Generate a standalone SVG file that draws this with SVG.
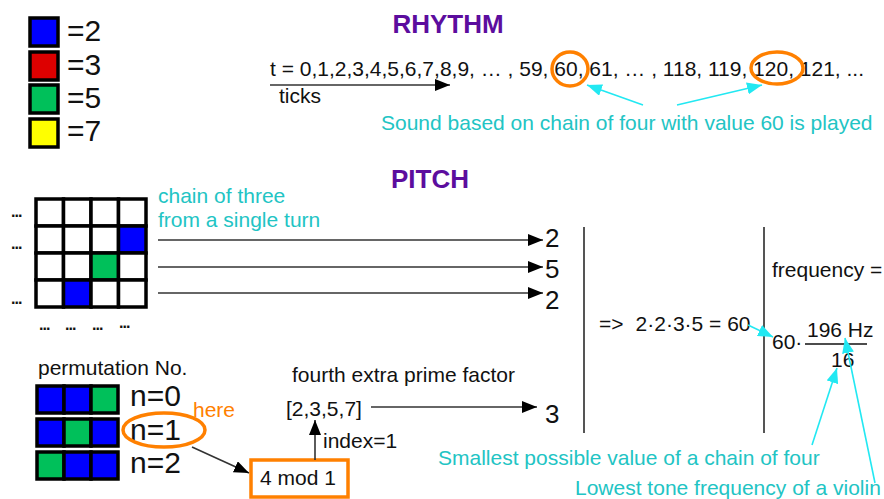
<svg xmlns="http://www.w3.org/2000/svg" width="884" height="499" viewBox="0 0 884 499">
<defs>
<marker id="ab" markerUnits="userSpaceOnUse" markerWidth="16" markerHeight="12" refX="15" refY="6" orient="auto"><path d="M0,0 L15,6 L0,12 z" fill="#000"/></marker>
<marker id="ac" markerUnits="userSpaceOnUse" markerWidth="16" markerHeight="12" refX="15" refY="6" orient="auto"><path d="M0,0 L15,6 L0,12 z" fill="#22e8f2"/></marker>
</defs>
<style>
text{font-family:"Liberation Sans",Arial,sans-serif;fill:#111}
.t{font-size:21px}
.big{font-size:30px}
.num{font-size:26px}
.title{font-size:26px;font-weight:bold;fill:#5c0d9e}
.cy{font-size:21px;fill:#22c4c4}
.or{font-size:21px;fill:#ff8000}
.dots{font-size:16px;font-weight:bold;letter-spacing:-1px}
.cell{stroke:#000;stroke-width:3.5}
.blk{stroke:#333;stroke-width:1.6;fill:none;marker-end:url(#ab)}
.cyl{stroke:#22e8f2;stroke-width:1.6;fill:none;marker-end:url(#ac)}
.orl{stroke:#ff8000;stroke-width:3.5;fill:none}
.sep{stroke:#555;stroke-width:2}
.w{fill:#fff}.b{fill:#0000ff}.r{fill:#dd0000}.g{fill:#00c05a}.y{fill:#ffff00}
</style>
<rect width="884" height="499" fill="#fff"/>

<g id="legend">
<rect class="cell b" x="30" y="18" width="28" height="28"/>
<rect class="cell r" x="30" y="52" width="28" height="28"/>
<rect class="cell g" x="30" y="85" width="28" height="28"/>
<rect class="cell y" x="30" y="119" width="28" height="28"/>
<text class="big" x="67" y="41">=2</text>
<text class="big" x="67" y="75">=3</text>
<text class="big" x="67" y="108">=5</text>
<text class="big" x="67" y="141">=7</text>
</g>

<g id="rhythm">
<text class="title" x="448" y="33" text-anchor="middle">RHYTHM</text>
<text class="t" x="270" y="76">t = 0,1,2,3,4,5,6,7,8,9, … , 59, 60, 61, … , 118, 119, 120, 121, ...</text>
<text class="t" x="279" y="103">ticks</text>
<ellipse class="orl" cx="570" cy="69" rx="18" ry="17"/>
<ellipse class="orl" cx="777" cy="68" rx="26" ry="16"/>
<text class="cy" x="381" y="130">Sound based on chain of four with value 60 is played</text>
</g>

<g id="pitch-title">
<text class="title" x="430" y="188" text-anchor="middle">PITCH</text>
</g>

<g id="grid">
<rect class="cell w" x="36" y="199" width="27.5" height="27"/>
<rect class="cell w" x="63.5" y="199" width="27.5" height="27"/>
<rect class="cell w" x="91" y="199" width="27.5" height="27"/>
<rect class="cell w" x="118.5" y="199" width="27.5" height="27"/>
<rect class="cell w" x="36" y="226" width="27.5" height="27"/>
<rect class="cell w" x="63.5" y="226" width="27.5" height="27"/>
<rect class="cell w" x="91" y="226" width="27.5" height="27"/>
<rect class="cell b" x="118.5" y="226" width="27.5" height="27"/>
<rect class="cell w" x="36" y="253" width="27.5" height="27"/>
<rect class="cell w" x="63.5" y="253" width="27.5" height="27"/>
<rect class="cell g" x="91" y="253" width="27.5" height="27"/>
<rect class="cell w" x="118.5" y="253" width="27.5" height="27"/>
<rect class="cell w" x="36" y="280" width="27.5" height="27"/>
<rect class="cell b" x="63.5" y="280" width="27.5" height="27"/>
<rect class="cell w" x="91" y="280" width="27.5" height="27"/>
<rect class="cell w" x="118.5" y="280" width="27.5" height="27"/>
<text class="dots" x="11" y="217">...</text>
<text class="dots" x="11" y="249">...</text>
<text class="dots" x="11" y="304">...</text>
<text class="dots" x="39" y="330">...</text>
<text class="dots" x="65" y="330">...</text>
<text class="dots" x="92" y="330">...</text>
<text class="dots" x="119" y="328">...</text>
</g>

<g id="chain-label">
<text class="cy" x="158" y="203">chain of three</text>
<text class="cy" x="158" y="227">from a single turn</text>
</g>

<g id="factors">
<text class="num" x="545" y="247">2</text>
<text class="num" x="545" y="278">5</text>
<text class="num" x="545" y="309">2</text>
<text class="num" x="545" y="423">3</text>
</g>

<g id="product">
<line class="sep" x1="584" y1="227" x2="584" y2="433"/>
<text class="t" x="599" y="331">=&gt;<tspan dx="12">2·2·3·5 = 60</tspan></text>
</g>

<g id="frequency">
<line class="sep" x1="764" y1="227" x2="764" y2="433"/>
<text class="t" x="772" y="277">frequency =</text>
<text class="t" x="772" y="349">60·</text>
<text class="t" x="807" y="337">196 Hz</text>
<line x1="805" y1="344" x2="867" y2="344" stroke="#111" stroke-width="1.6"/>
<text class="t" x="831" y="367">16</text>
</g>

<g id="permutations">
<text class="t" x="38" y="375">permutation No.</text>
<rect class="cell b" x="37" y="386" width="27" height="27"/>
<rect class="cell b" x="64" y="386" width="27" height="27"/>
<rect class="cell g" x="91" y="386" width="27" height="27"/>
<rect class="cell b" x="37" y="419" width="27" height="27"/>
<rect class="cell g" x="64" y="419" width="27" height="27"/>
<rect class="cell b" x="91" y="419" width="27" height="27"/>
<rect class="cell g" x="37" y="452" width="27" height="27"/>
<rect class="cell b" x="64" y="452" width="27" height="27"/>
<rect class="cell b" x="91" y="452" width="27" height="27"/>
<text class="big" x="130" y="406">n=0</text>
<text class="big" x="130" y="440">n=1</text>
<text class="big" x="130" y="473">n=2</text>
<ellipse class="orl" cx="164" cy="430" rx="41" ry="17"/>
<text class="or" x="193" y="417">here</text>
</g>

<g id="mod">
<rect class="orl" x="251" y="460" width="97" height="37"/>
<text class="t" x="260" y="485">4 mod 1</text>
</g>

<g id="primes">
<text class="t" x="292" y="382">fourth extra prime factor</text>
<text class="t" x="286" y="416">[2,3,5,7]</text>
<text class="t" x="323" y="448">index=1</text>
</g>

<g id="notes">
<text class="cy" x="438" y="465">Smallest possible value of a chain of four</text>
<text class="cy" x="575" y="495">Lowest tone frequency of a violin</text>
</g>

<g id="connectors">
<line class="blk" x1="270" y1="85" x2="450" y2="85"/>
<line class="blk" x1="158" y1="240" x2="543" y2="240"/>
<line class="blk" x1="158" y1="267" x2="543" y2="267"/>
<line class="blk" x1="158" y1="293" x2="543" y2="293"/>
<line class="blk" x1="192" y1="447" x2="249" y2="473"/>
<line class="blk" x1="315" y1="460" x2="315" y2="420"/>
<line class="blk" x1="371" y1="407" x2="537" y2="407"/>
<line class="cyl" x1="643" y1="105" x2="587" y2="85"/>
<line class="cyl" x1="677" y1="105" x2="762" y2="85"/>
<line class="cyl" x1="748" y1="325" x2="773" y2="337"/>
<line class="cyl" x1="812" y1="445" x2="837" y2="368"/>
<line class="cyl" x1="875" y1="483" x2="845" y2="338"/>
</g>
</svg>
